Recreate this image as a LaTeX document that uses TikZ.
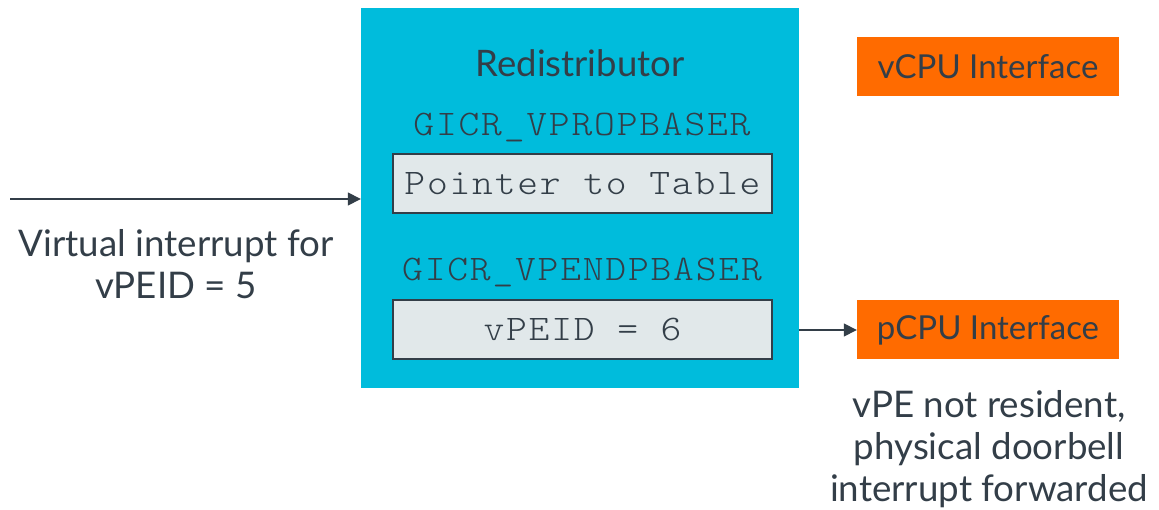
\documentclass[tikz,border=0pt]{standalone}
\usepackage{fontspec}
\setmainfont{Lato}
% light, widened typewriter face for register names and values
\newfontfamily\regfont{lmmonolt10-regular.otf}[FakeStretch=1.1, LetterSpace=5]
\usetikzlibrary{arrows.meta}
\definecolor{ink}{HTML}{333E48}
\definecolor{redistfill}{HTML}{00BCDC}
\definecolor{regfill}{HTML}{E1E8EA}
\definecolor{cpufill}{HTML}{FF6B00}
\newcommand{\regtype}{\fontsize{36}{40}\selectfont\regfont}
\tikzset{
  redistbox/.style={fill=redistfill, draw=none, minimum width=438pt, minimum height=380pt, inner sep=0pt},
  regbox/.style={fill=regfill, draw=ink, line width=2pt, minimum width=379pt, minimum height=59pt, inner sep=0pt,
    text=ink, font=\regtype},
  regname/.style={text=ink, inner sep=0pt, font=\regtype},
  cpubox/.style={fill=cpufill, draw=none, minimum width=262pt, minimum height=59pt, inner sep=0pt,
    text=ink, font=\fontsize{33}{40}\selectfont},
  title/.style={text=ink, inner sep=0pt, font=\fontsize{36.5}{42}\selectfont},
  label/.style={text=ink, inner sep=0pt, align=center, font=\fontsize{36.7}{42}\selectfont},
  flow/.style={draw=ink, line width=1.5pt, -{Triangle[length=13pt,width=13pt]}}
}
\begin{document}
\begin{tikzpicture}[x=1pt, y=-1pt]
\useasboundingbox (0,0) rectangle (1159,510);
% Redistributor block with its two registers
\node[redistbox] (redist) at (580,198) {};
\node[title] (heading) at (580,63) {Redistributor};
\node[regname] (propname) at (582,128) {GICR\_VPROPBASER};
\node[regbox] (prop) at (582.5,183.5) {Pointer to Table};
\node[regname] (pendname) at (582,273) {GICR\_VPENDPBASER};
\node[regbox] (pend) at (582.5,330) {vPEID = 6};
% CPU interfaces
\node[cpubox] (vcpu) at (988,66.5) {vCPU Interface};
\node[cpubox] (pcpu) at (988,330) {pCPU Interface};
% Incoming virtual interrupt
\coordinate (src) at (10,199);
\draw[flow] (src) -- (src -| redist.west);
\node[label] (inlabel) at (176,264) {Virtual interrupt for\\vPEID = 5};
% Doorbell forwarded to the physical CPU interface
\draw[flow] (redist.east |- pend) -- (pcpu.west);
\node[label] (outlabel) at (989,449) {vPE not resident,\\physical doorbell\\interrupt forwarded};
\end{tikzpicture}
\end{document}
